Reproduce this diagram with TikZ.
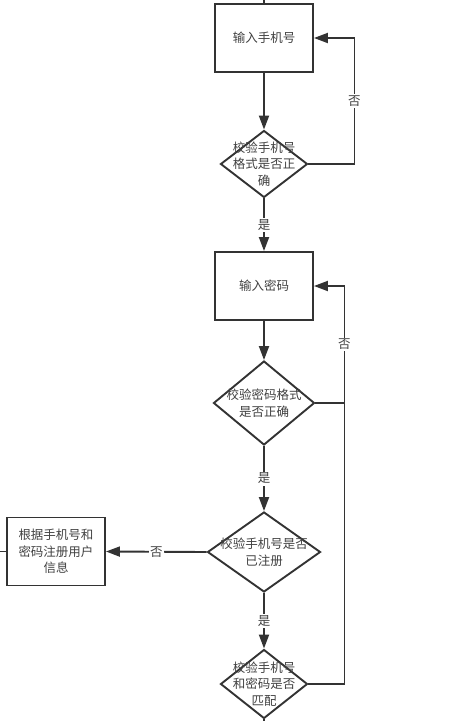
\documentclass[tikz,border=0pt]{standalone}
\usepackage{fontspec}
\setmainfont{Noto Sans CJK SC}
\usetikzlibrary{arrows.meta,shapes.geometric}
\definecolor{linec}{HTML}{333333}
\definecolor{txtc}{HTML}{404040}

\begin{document}
\begin{tikzpicture}[x=1pt,y=-1pt,color=linec,line width=1.9pt,
  font=\fontsize{12.5}{16.5}\selectfont,
  box/.style={draw,rectangle,minimum width=98pt,minimum height=68pt,inner sep=0pt,align=center,text=txtc},
  check/.style={draw,diamond,inner sep=0pt},
  txt/.style={align=center,text=txtc,inner sep=0pt},
  arr/.style={-{Triangle[length=14pt,width=10pt]}},
  lbl/.style={fill=white,inner sep=1.5pt,text=txtc}]
\useasboundingbox (0,0) rectangle (468,721);

% boxes
\node[box] (phone) at (264,38) {输入手机号};
\node[box] (pwd) at (264,286) {输入密码};
\node[box] (reguser) at (56,551.5) {根据手机号和\\密码注册用户\\信息};

% checks
\node[check,minimum width=87pt,minimum height=67pt,
  label={[txt]center:{校验手机号\\格式是否正\\确}}] (chkfmt) at (264,164) {};
\node[check,minimum width=101pt,minimum height=84pt,
  label={[txt]center:{校验密码格式\\是否正确}}] (chkpwd) at (264,403) {};
\node[check,minimum width=113pt,minimum height=80pt,
  label={[txt]center:{校验手机号是否\\已注册}}] (chkreg) at (264,552) {};
\node[check,minimum width=87pt,minimum height=69pt,
  label={[txt]center:{校验手机号\\和密码是否\\匹配}}] (chkmatch) at (264,684) {};

\coordinate (topend) at (264,0);
\coordinate (bottomend) at (264,721);
\coordinate (leftend) at (0,551.5);

% main line
\draw (topend) -- (phone);
\draw[arr] (phone) -- (chkfmt);
\draw[arr] (chkfmt) -- node[lbl]{是} (pwd);
\draw[arr] (pwd) -- (chkpwd);
\draw[arr] (chkpwd) -- node[lbl]{是} (chkreg);
\draw[arr] (chkreg) -- node[lbl]{是} (chkmatch);
\draw (chkmatch) -- (bottomend);

% back lines
\draw[arr] (chkfmt.east) -- ++(46,0) |- node[lbl,pos=0.25]{否} (phone.east);
\draw[arr] (chkpwd.east) -- ++(29,0) coordinate (join) |- node[lbl,pos=0.25]{否} (pwd.east);
\draw (chkmatch.east) -| (join);

% not registered
\draw[arr] (chkreg.west) -- node[lbl]{否} (reguser.east);
\draw (reguser.west) -- (leftend);
\end{tikzpicture}
\end{document}
